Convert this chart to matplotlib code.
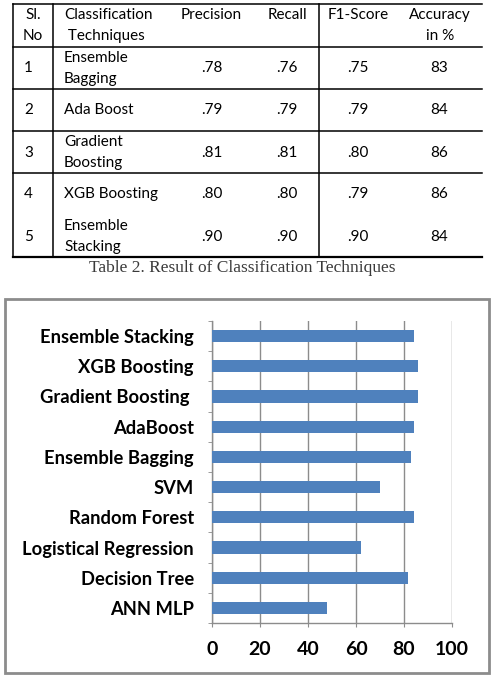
import numpy as np
import matplotlib.pyplot as plt
from matplotlib.patches import Rectangle
from matplotlib.ticker import FixedLocator

# table data
table_header = [["Sl.", "No"], ["Classification", " Techniques"], ["Precision"],
                ["Recall"], ["F1-Score"], ["Accuracy", "in %"]]
sl_no = ["1", "2", "3", "4", "5"]
techniques = [["Ensemble", "Bagging"], ["Ada Boost"], ["Gradient", "Boosting"],
              ["XGB Boosting"], ["Ensemble", "Stacking"]]
precision = [".78", ".79", ".81", ".80", ".90"]
recall = [".76", ".79", ".81", ".80", ".90"]
f1_score = [".75", ".79", ".80", ".79", ".90"]
accuracy_pct = ["83", "84", "86", "86", "84"]
caption = "Table 2. Result of Classification Techniques"

# bar chart data (bottom to top)
models = ["ANN MLP", "Decision Tree", "Logistical Regression", "Random Forest", "SVM",
          "Ensemble Bagging", "AdaBoost", "Gradient Boosting ", "XGB Boosting",
          "Ensemble Stacking"]
accuracy = [48, 81.5, 62, 84, 70, 83, 84, 86, 86, 84]
x_ticks = [0, 20, 40, 60, 80, 100]

W, H = 491, 675
fig = plt.figure(figsize=(W / 100, H / 100), dpi=100)
fig.patch.set_facecolor("white")

# pixel-space overlay for the table and frame
ov = fig.add_axes([0, 0, 1, 1])
ov.set_xlim(0, W)
ov.set_ylim(H, 0)
ov.axis("off")

tfont = dict(family=["Lato", "DejaVu Sans"], fontsize=11, color="black")
lw = 1.1
# horizontal rules
for y in [4, 47, 89, 131, 173]:
    ov.plot([13, 482], [y, y], color="black", lw=lw)
ov.plot([13, 482], [257, 257], color="black", lw=1.6)
# vertical rules
for x in [13, 53, 319]:
    ov.plot([x, x], [4, 257], color="black", lw=lw)

# header
col_x = [33, 64, 211, 287, 358, 440]
col_ha = ["center", "left", "center", "center", "center", "center"]
for j, lines in enumerate(table_header):
    ov.text(col_x[j], 15, lines[0], ha=col_ha[j], va="center", **tfont)
    if len(lines) == 2:
        x2 = 454 if j == 5 else col_x[j]
        ha2 = "right" if j == 5 else col_ha[j]
        ov.text(x2, 36, lines[1], ha=ha2, va="center", **tfont)

row_mid = [68, 110, 153, 194, 237]
for i in range(len(sl_no)):
    ym = row_mid[i]
    ov.text(24, ym, sl_no[i], ha="left", va="center", **tfont)
    if len(techniques[i]) == 2:
        ov.text(64, ym - 10.5, techniques[i][0], ha="left", va="center", **tfont)
        ov.text(64, ym + 10.5, techniques[i][1], ha="left", va="center", **tfont)
    else:
        ov.text(64, ym, techniques[i][0], ha="left", va="center", **tfont)
    for x, vals in zip([212, 287, 358, 439], [precision, recall, f1_score, accuracy_pct]):
        ov.text(x, ym, vals[i], ha="center", va="center", **tfont)

ov.text(242, 268, caption, ha="center", va="center",
        family=["Liberation Serif", "DejaVu Serif"], fontsize=12.5, color="#3a3a3a")

# chart frame
ov.add_patch(Rectangle((5, 299), 484, 374, fill=False, ec="#8c8c8c", lw=2))

# bar chart
ax = fig.add_axes([212 / W, 1 - 623 / H, 240 / W, 302 / H])
y = np.arange(len(models))
ax.barh(y, accuracy, height=0.4, color="#4f81bd", zorder=3)
ax.set_xlim(0, 100)
ax.set_ylim(-0.5, len(models) - 0.5)
ax.set_xticks(x_ticks)
ax.set_yticks(y)
ax.set_yticklabels(models)
ax.yaxis.set_minor_locator(FixedLocator(np.arange(-0.5, len(models), 1.0)))
ax.grid(axis="x", color="#8c8c8c", lw=1, zorder=0)
for s in ["top", "right"]:
    ax.spines[s].set_visible(False)
for s in ["left", "bottom"]:
    ax.spines[s].set_color("#8c8c8c")
    ax.spines[s].set_linewidth(1)
ax.tick_params(axis="y", which="major", length=0, pad=13)
ax.tick_params(axis="y", which="minor", length=3, color="#8c8c8c", direction="out")
ax.tick_params(axis="x", length=3, color="#8c8c8c", pad=10)
for lab in ax.get_yticklabels():
    lab.set_fontfamily(["Lato", "DejaVu Sans"])
    lab.set_fontweight("bold")
    lab.set_fontsize(13.2)
for lab in ax.get_xticklabels():
    lab.set_fontfamily(["Lato", "DejaVu Sans"])
    lab.set_fontweight("bold")
    lab.set_fontsize(14)

fig.savefig("out.png", dpi=100)
